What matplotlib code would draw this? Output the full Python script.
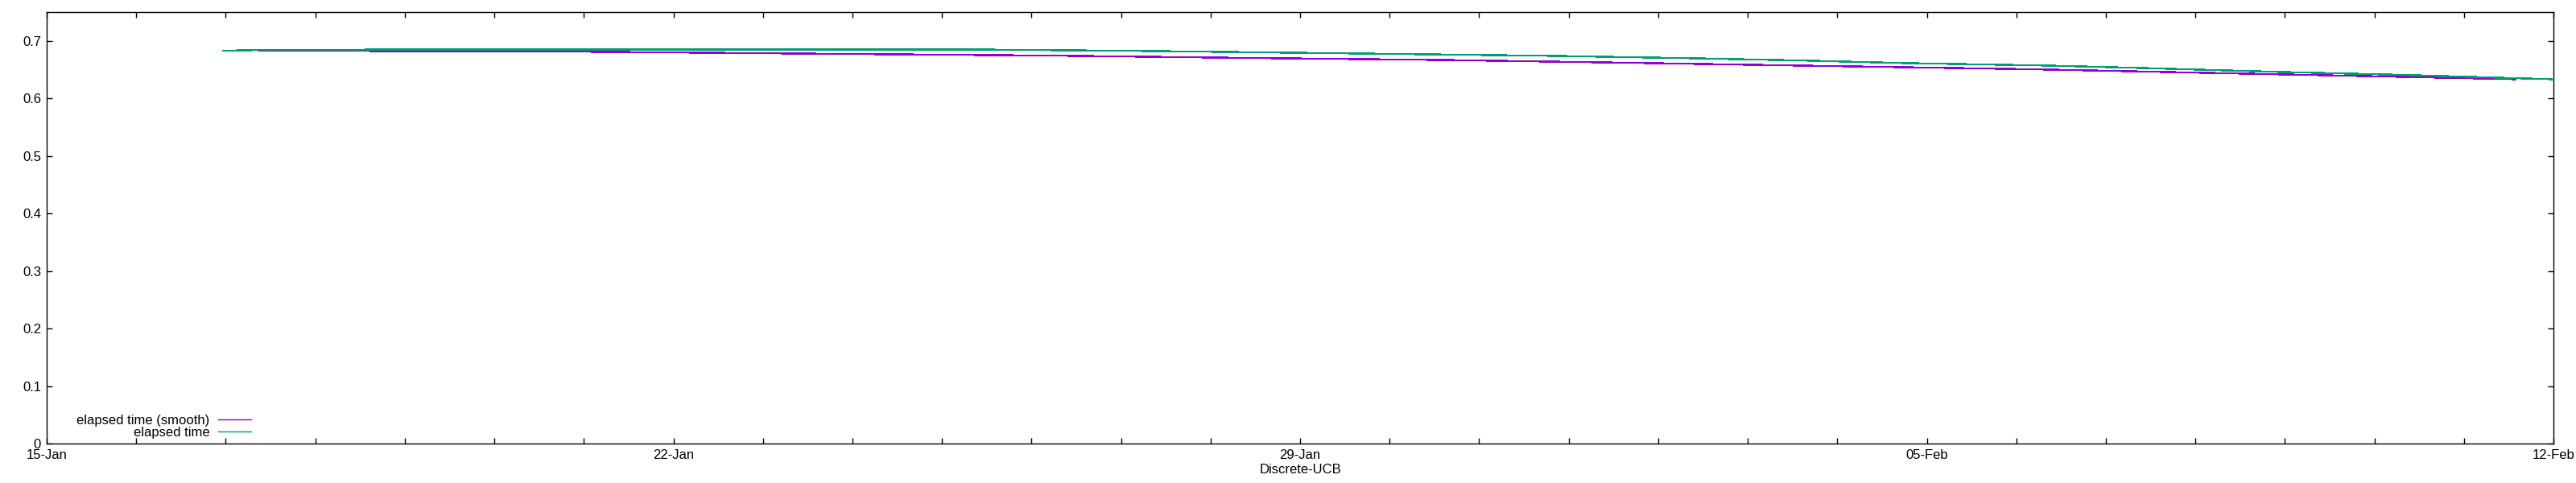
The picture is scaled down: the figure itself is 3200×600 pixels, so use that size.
import matplotlib
matplotlib.use("Agg")
import matplotlib.pyplot as plt
import matplotlib.dates as mdates
import pandas as pd

plt.rcParams['font.family'] = ['Liberation Sans', 'DejaVu Sans']

# elapsed time (days after 15-Jan, value)
rawDays = [1.97, 2.37, 4.47, 10.27, 12.31, 14.60, 16.82, 18.39, 19.70, 20.75,
           22.33, 23.38, 24.95, 26.27, 27.98]
rawVals = [0.6827, 0.6841, 0.6851, 0.6851, 0.6823, 0.6781, 0.6739, 0.6697, 0.6655, 0.6613,
           0.6571, 0.6529, 0.6459, 0.6410, 0.6333]

# elapsed time (smooth)
smoothDays = [2.37, 5.28, 6.89, 9.01, 11.25, 13.50, 15.67, 17.73, 19.95, 22.22,
              23.96, 25.72, 27.58]
smoothVals = [0.6827, 0.6820, 0.6800, 0.6771, 0.6743, 0.6701, 0.6666, 0.6617, 0.6561, 0.6505,
              0.6449, 0.6393, 0.6333]

startDate = "2024-01-15"
endDate = "2024-02-12"
yTicks = [0, 0.1, 0.2, 0.3, 0.4, 0.5, 0.6, 0.7]
yTickLabels = ["0", "0.1", "0.2", "0.3", "0.4", "0.5", "0.6", "0.7"]

base = pd.Timestamp(startDate)
rawX = [base + pd.Timedelta(days=d) for d in rawDays]
smoothX = [base + pd.Timedelta(days=d) for d in smoothDays]

fig = plt.figure(figsize=(32, 6), dpi=100)
ax = fig.add_axes([58/3200, 49/600, (3172-58)/3200, (551-15)/600])

# gnuplot order: smooth first, raw on top
ax.plot(smoothX, smoothVals, color="#9400D3", lw=1.0, antialiased=False, label="elapsed time (smooth)")
ax.plot(rawX, rawVals, color="#009E73", lw=1.0, antialiased=False, label="elapsed time")

ax.set_xlim(base, pd.Timestamp(endDate))
ax.set_ylim(0, 0.75)
ax.set_yticks(yTicks)
ax.set_yticklabels(yTickLabels)

ax.xaxis.set_major_locator(mdates.DayLocator(interval=7))
ax.xaxis.set_major_formatter(mdates.DateFormatter("%d-%b"))
ax.xaxis.set_minor_locator(mdates.DayLocator())

ax.tick_params(which="both", direction="in", top=True, right=True, labelsize=12, length=5, width=1, pad=5)
ax.tick_params(which="minor", length=5)
for s in ax.spines.values():
    s.set_linewidth(1)

ax.set_xlabel("Discrete-UCB", fontsize=12, labelpad=2)

# legend: text right-aligned, sample line after it
leg = ax.legend(loc="lower left", bbox_to_anchor=(0.012, 0.012), frameon=False, fontsize=12,
                markerfirst=False, handlelength=2.5, handletextpad=0.6, labelspacing=0.0,
                borderaxespad=0, borderpad=0)

fig.savefig("out.png", dpi=100)
